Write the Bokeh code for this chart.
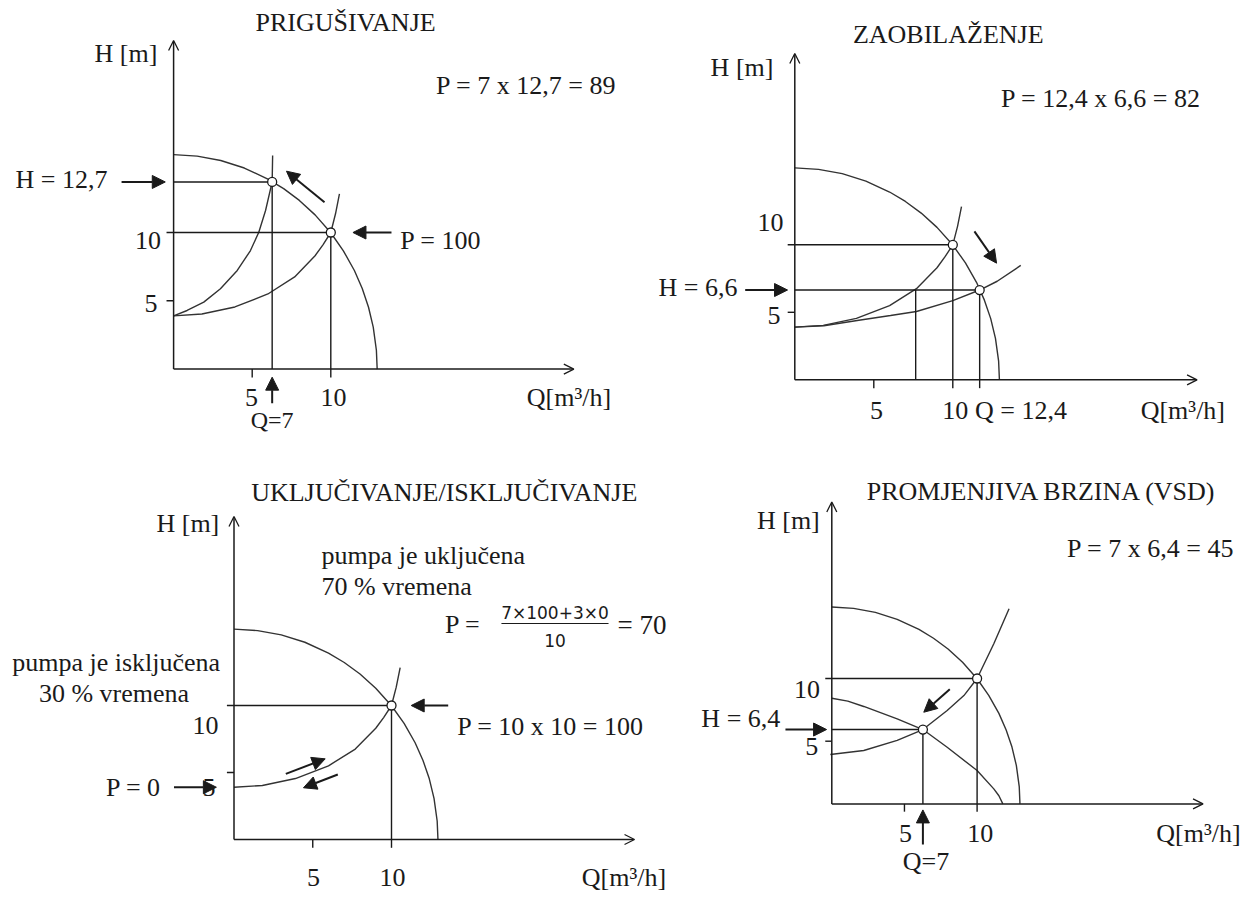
from bokeh.plotting import figure
from bokeh.models import Range1d, Arrow, NormalHead, OpenHead
from bokeh.layouts import row, column
from bokeh.core.properties import value
from bokeh.embed import file_html
from bokeh.resources import INLINE

# ---------------- data ----------------
q_ticks = [5, 10]
h_ticks = [5, 10]
tick_labels = ["5", "10"]

# pump curve at full speed (Q [m3/h], H [m])
pump_q = [0, 1.5, 3, 4.5, 6, 7, 8, 9, 10, 10.8, 11.5, 12, 12.4, 12.7, 12.9, 12.95]
pump_h = [15.7, 15.59, 15.27, 14.72, 13.91, 13.21, 12.35, 11.29, 9.98, 8.66, 7.22, 5.9, 4.53, 3.07, 1.38, 0]

# original system curve
sys_q = [0, 1.8, 3.9, 6.0, 7.7, 9.0, 9.5, 10, 10.3, 10.55]
sys_h = [3.9, 4.03, 4.55, 5.5, 6.75, 8.3, 9.1, 10, 11.37, 12.83]

# throttled system curve (PRIGUŠIVANJE)
thr_q = [0, 0.86, 1.92, 2.98, 4.05, 4.89, 5.42, 5.85, 6.27, 6.3]
thr_h = [3.9, 4.29, 4.9, 5.88, 7.22, 8.68, 10.02, 11.61, 13.7, 15.64]

# bypass system curve (ZAOBILAŽENJE)
byp_q = [0, 1.84, 3.95, 6.06, 7.7, 10, 11.7, 12.81, 14.3]
byp_h = [3.9, 4.0, 4.39, 4.76, 5.06, 5.87, 6.65, 7.3, 8.47]

# VSD panel: system curve and reduced-speed pump curve
vsd_sys_q = [-0.1, 2.2, 4.5, 6.27, 7.94, 9.09, 10, 11.15, 12.2]
vsd_sys_h = [3.94, 4.26, 5.06, 5.93, 7.45, 8.64, 10, 12.77, 15.56]
vsd_pump_q = [0, 1.1, 2.2, 4.5, 6.27, 7.94, 10.0, 11.15, 11.5, 11.77]
vsd_pump_h = [8.43, 8.2, 7.77, 6.78, 5.93, 4.52, 2.66, 1.2, 0.65, 0]

# operating points
op_nom = (10, 10)
op_thr = (6.27, 13.7)
op_byp = (11.7, 6.65)
q_byp_sys = 7.65
op_vsd = (6.27, 5.93)

# ---------------- styling helpers ----------------
SERIF = "Liberation Serif"
INK = "#1a1a1a"
FS = "26px"
TQ = 0.62   # tick length below x axis (H units)
TH = 0.45   # tick length left of y axis (Q units)


def panel(fx, fy, w, h, ox, oy, sx, sy):
    p = figure(width=w, height=h, output_backend="svg", toolbar_location=None,
               x_axis_type=None, y_axis_type=None, min_border=0,
               x_range=Range1d((fx - ox) / sx, (fx + w - ox) / sx),
               y_range=Range1d((oy - (fy + h)) / sy, (oy - fy) / sy))
    p.outline_line_color = None
    p.background_fill_color = "white"
    p.border_fill_color = "white"
    return p


def txt(p, x, y, s, size=FS, align="center", font=SERIF):
    p.text(x=[x], y=[y], text=[s], text_font=value(font), text_font_size=size,
           text_align=align, text_baseline="middle", text_color=INK)


def arrow(p, x0, y0, x1, y1, size=13, width=2.0):
    p.add_layout(Arrow(end=NormalHead(size=size, fill_color=INK, line_color=INK, line_width=1),
                       x_start=x0, y_start=y0, x_end=x1, y_end=y1,
                       line_width=width, line_color=INK))


def axes(p, qmax, hmax):
    for (x1, y1) in [(0, hmax), (qmax, 0)]:
        p.add_layout(Arrow(end=OpenHead(size=10, line_width=1.3, line_color=INK),
                           x_start=0, y_start=0, x_end=x1, y_end=y1,
                           line_width=1.5, line_color=INK))


def seg(p, x0, y0, x1, y1, w=1.4):
    p.segment(x0=x0, y0=y0, x1=x1, y1=y1, line_color=INK, line_width=w)


def curve(p, q, h):
    p.line(q, h, line_color="#333333", line_width=1.4)


def points(p, qs, hs):
    p.scatter(x=qs, y=hs, size=9, marker="circle", fill_color="white",
              line_color=INK, line_width=1.3)


TOP_H = 436
BOT_H = 458

# ---------------- panel 1: PRIGUŠIVANJE ----------------
p1 = panel(0, 0, 640, TOP_H, 173.1, 368.6, 15.72, 13.66)
axes(p1, 25.46, 24.06)
seg(p1, [q_ticks[0], -TH], [0, h_ticks[0]], [q_ticks[0], 0], [-TQ, h_ticks[0]])
curve(p1, pump_q, pump_h)
curve(p1, sys_q, sys_h)
curve(p1, thr_q, thr_h)
seg(p1, [-TH, op_nom[0], 0, op_thr[0]],
    [op_nom[1], op_nom[1], op_thr[1], op_thr[1]],
    [op_nom[0], op_nom[0], op_thr[0], op_thr[0]],
    [op_nom[1], -TQ, op_thr[1], 0])
arrow(p1, 9.6, 12.22, 7.18, 14.49)
arrow(p1, 13.86, op_nom[1], 11.41, op_nom[1])
arrow(p1, -3.31, op_thr[1], -0.53, op_thr[1])
arrow(p1, op_thr[0], -2.5, op_thr[0], -0.59)
points(p1, [op_nom[0], op_thr[0]], [op_nom[1], op_thr[1]])
txt(p1, 10.94, 25.39, "PRIGUŠIVANJE")
txt(p1, -3.03, 23.1, "H [m]")
txt(p1, 22.43, 20.76, "P = 7 x 12,7 = 89")
txt(p1, -7.13, 13.86, "H = 12,7")
txt(p1, -0.8, 9.41, tick_labels[1], align="right")
txt(p1, -1.02, 4.8, tick_labels[0], align="right")
txt(p1, 17.0, 9.41, "P = 100")
txt(p1, 4.96, -2.06, tick_labels[0])
txt(p1, 10.17, -2.06, tick_labels[1])
txt(p1, 25.15, -2.06, "Q[m³/h]")
txt(p1, op_thr[0], -3.75, "Q=7", size="24px")

# ---------------- panel 2: ZAOBILAŽENJE ----------------
p2 = panel(640, 0, 608, TOP_H, 794.3, 379.3, 15.8, 13.5)
axes(p2, 25.46, 24.17)
seg(p2, [q_ticks[0], -TH], [0, h_ticks[0]], [q_ticks[0], 0], [-TQ, h_ticks[0]])
curve(p2, pump_q, pump_h)
curve(p2, sys_q, sys_h)
curve(p2, byp_q, byp_h)
seg(p2, [-TH, op_nom[0], 0, op_byp[0], q_byp_sys],
    [op_nom[1], op_nom[1], op_byp[1], op_byp[1], op_byp[1]],
    [op_nom[0], op_nom[0], op_byp[0], op_byp[0], q_byp_sys],
    [op_nom[1], -TQ, op_byp[1], -TQ, 0])
arrow(p2, 11.37, 10.99, 12.77, 8.64)
arrow(p2, -3.14, op_byp[1], -0.46, op_byp[1])
points(p2, [op_nom[0], op_byp[0]], [op_nom[1], op_byp[1]])
txt(p2, 9.71, 25.58, "ZAOBILAŽENJE")
txt(p2, -3.34, 23.13, "H [m]")
txt(p2, 19.38, 20.84, "P = 12,4 x 6,6 = 82")
txt(p2, -0.72, 11.65, tick_labels[1], align="right")
txt(p2, -0.91, 4.76, tick_labels[0], align="right")
txt(p2, -6.13, 6.84, "H = 6,6")
txt(p2, 5.17, -2.29, tick_labels[0])
txt(p2, 10.16, -2.29, tick_labels[1])
txt(p2, 14.32, -2.29, "Q = 12,4")
txt(p2, 24.56, -2.29, "Q[m³/h]")

# ---------------- panel 3: UKLJUČIVANJE/ISKLJUČIVANJE ----------------
p3 = panel(0, TOP_H, 690, BOT_H, 233.5, 839, 15.75, 13.4)
axes(p3, 25.43, 24.1)
seg(p3, [q_ticks[0], -TH], [0, h_ticks[0]], [q_ticks[0], 0], [-TQ, h_ticks[0]])
curve(p3, pump_q, pump_h)
curve(p3, sys_q, sys_h)
seg(p3, [-TH, op_nom[0]], [op_nom[1], op_nom[1]], [op_nom[0], op_nom[0]], [op_nom[1], -TQ])
arrow(p3, 3.29, 4.9, 5.79, 6.02)
arrow(p3, 6.59, 4.85, 4.41, 3.86)
arrow(p3, 13.6, op_nom[1], 11.25, op_nom[1])
arrow(p3, -3.81, sys_h[0], -1.12, sys_h[0])
points(p3, [op_nom[0]], [op_nom[1]])
txt(p3, 13.35, 25.86, "UKLJUČIVANJE/ISKLJUČIVANJE")
txt(p3, -2.93, 23.58, "H [m]")
txt(p3, 5.56, 21.16, "pumpa je uključena", align="left")
txt(p3, 5.56, 18.88, "70 % vremena", align="left")
txt(p3, 13.4, 16.04, "P =", align="left")
txt(p3, 20.38, 16.94, "7×100+3×0", size="17px", font="DejaVu Sans")
seg(p3, [16.98], [16.12], [23.78], [16.12], w=1.2)
txt(p3, 20.38, 14.85, "10", size="17px", font="DejaVu Sans")
txt(p3, 24.35, 16.04, "= 70", align="left", size="27px")
txt(p3, -7.48, 13.21, "pumpa je isključena")
txt(p3, -7.62, 10.93, "30 % vremena")
txt(p3, -0.98, 8.51, tick_labels[1], align="right")
txt(p3, -1.17, 3.88, tick_labels[0], align="right")
txt(p3, -6.38, 3.88, "P = 0")
txt(p3, 20.1, 8.43, "P = 10 x 10 = 100")
txt(p3, 5.05, -2.84, tick_labels[0])
txt(p3, 10.06, -2.84, tick_labels[1])
txt(p3, 24.76, -2.84, "Q[m³/h]")

# ---------------- panel 4: PROMJENJIVA BRZINA (VSD) ----------------
p4 = panel(690, TOP_H, 558, BOT_H, 831.3, 803.4, 14.53, 12.54)
axes(p4, 25.55, 24.08)
seg(p4, [q_ticks[0], -TH], [0, h_ticks[0]], [q_ticks[0], 0], [-TQ, h_ticks[0]])
curve(p4, pump_q, pump_h)
curve(p4, vsd_pump_q, vsd_pump_h)
curve(p4, vsd_sys_q, vsd_sys_h)
seg(p4, [-TH, op_nom[0], 0, op_vsd[0]],
    [op_nom[1], op_nom[1], op_vsd[1], op_vsd[1]],
    [op_nom[0], op_nom[0], op_vsd[0], op_vsd[0]],
    [op_nom[1], -TQ, op_vsd[1], 0])
arrow(p4, 8.12, 9.15, 6.33, 7.31)
arrow(p4, -3.19, op_vsd[1], -0.36, op_vsd[1])
arrow(p4, op_vsd[0], -3.24, op_vsd[0], -0.48)
points(p4, [op_nom[0], op_vsd[0]], [op_nom[1], op_vsd[1]])
txt(p4, 14.47, 24.95, "PROMJENJIVA BRZINA (VSD)")
txt(p4, -2.99, 22.62, "H [m]")
txt(p4, 21.95, 20.38, "P = 7 x 6,4 = 45")
txt(p4, -0.81, 9.12, tick_labels[1], align="right")
txt(p4, -0.94, 4.54, tick_labels[0], align="right")
txt(p4, -6.26, 6.81, "H = 6,4")
txt(p4, 5.07, -2.33, tick_labels[0])
txt(p4, 10.21, -2.33, tick_labels[1])
txt(p4, 6.48, -4.57, "Q=7")
txt(p4, 25.23, -2.33, "Q[m³/h]")

layout = column(row(p1, p2), row(p3, p4))
open("out.html", "w").write(file_html(layout, INLINE))
